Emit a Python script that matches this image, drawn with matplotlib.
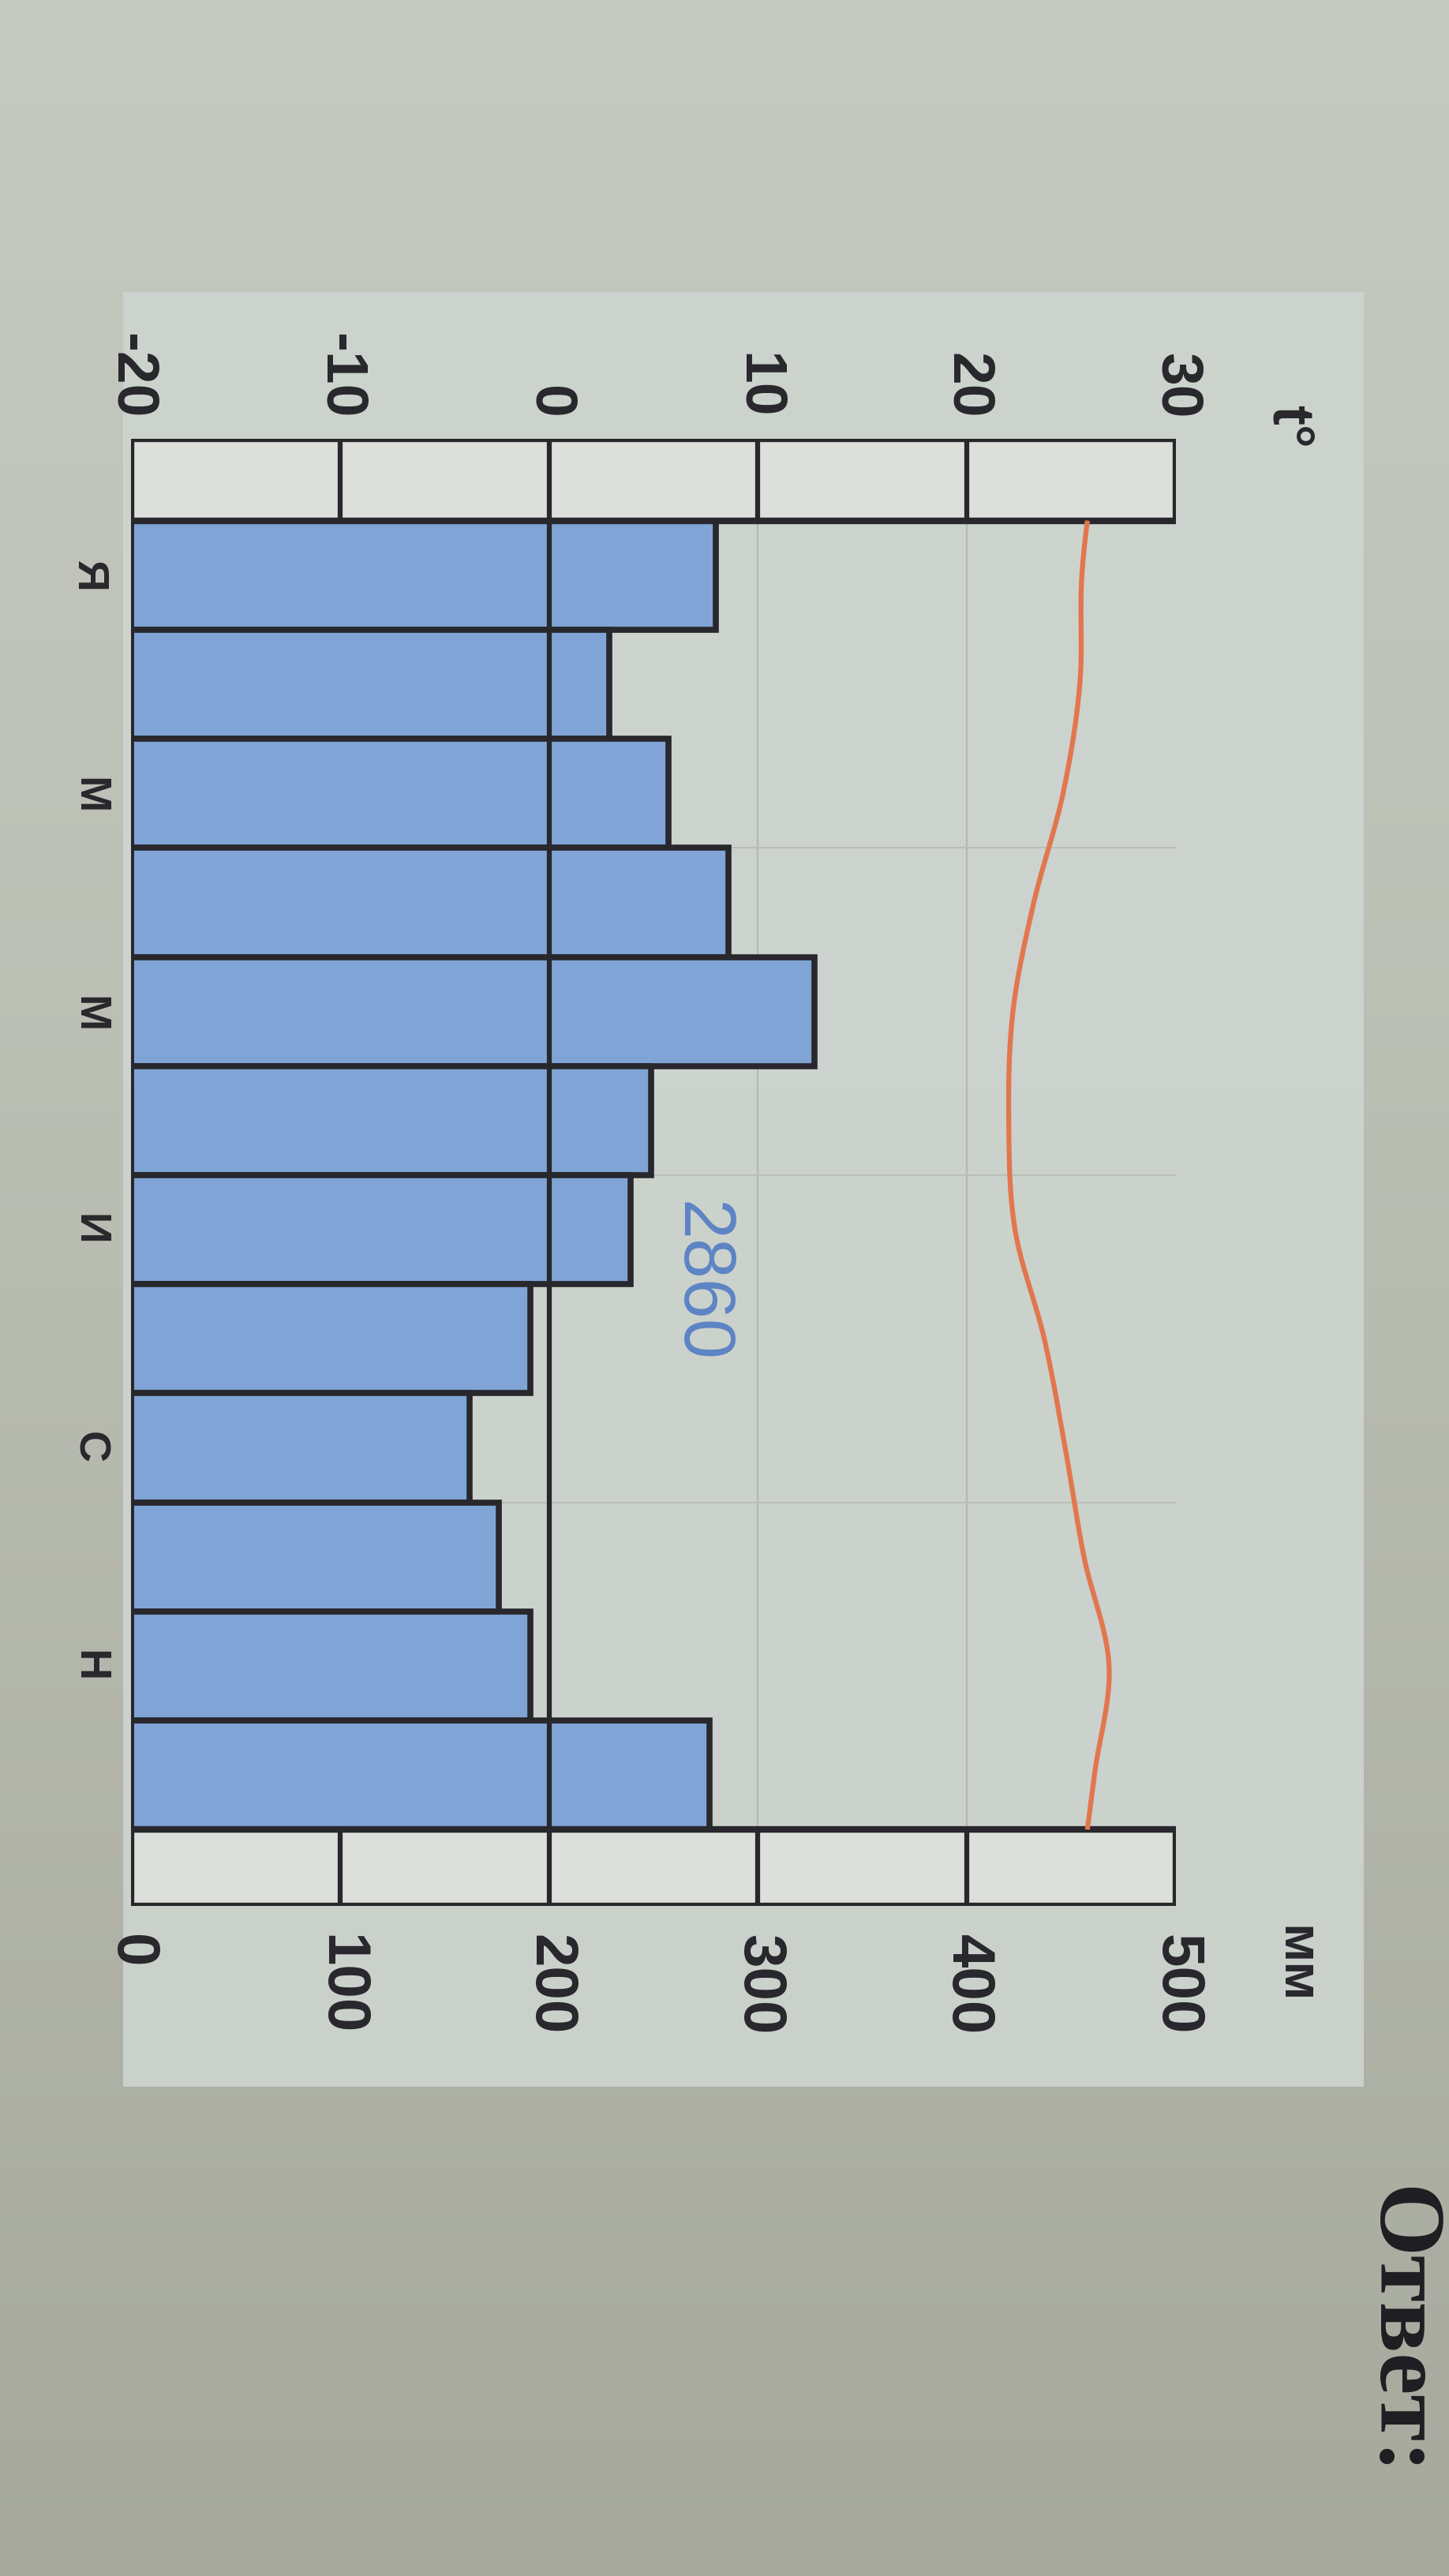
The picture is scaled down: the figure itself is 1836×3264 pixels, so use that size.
import numpy as np
import matplotlib
matplotlib.use('Agg')
import matplotlib.pyplot as plt
from matplotlib.patches import Rectangle

plt.rcParams['font.family'] = ['Liberation Sans', 'DejaVu Sans']

# climate chart data (photo is rotated 90 degrees, months run top -> bottom)
months = ['Я', 'Ф', 'М', 'А', 'М', 'И', 'И', 'А', 'С', 'О', 'Н', 'Д']
label_months = [0, 2, 4, 6, 8, 10]
precip = [280, 229, 257, 286, 327, 249, 239, 191, 162, 176, 191, 277]
temps = [25.5, 25.4, 24.6, 23.2, 22.2, 22.0, 22.3, 23.7, 24.7, 25.6, 26.8, 26.1]
mm_ticks = [0, 100, 200, 300, 400, 500]
mm_labels = ['0', '100', '200', '300', '400', '500']
t_ticks = [-20, -10, 0, 10, 20, 30]
t_labels = ['-20', '-10', '0', '10', '20', '30']
total_label = '2860'

W, H = 1836, 3264
ink = '#28272c'
bar_col = '#80a4d6'
line_col = '#e2764f'


def fx(px):
    return px / W


def fy(py):
    return 1 - py / H


def smooth(vals, n=40):
    # periodic catmull-rom through monthly values, centres at i + 0.5
    v = np.r_[vals[-2:], vals, vals[:2]]
    c = np.arange(-2, len(vals) + 2) + 0.5
    ys, xs = [], []
    t = np.linspace(0, 1, n, endpoint=False)
    for i in range(1, len(v) - 2):
        p0, p1, p2, p3 = v[i - 1], v[i], v[i + 1], v[i + 2]
        xs.append(0.5 * (2 * p1 + (-p0 + p2) * t + (2 * p0 - 5 * p1 + 4 * p2 - p3) * t ** 2
                         + (-p0 + 3 * p1 - 3 * p2 + p3) * t ** 3))
        ys.append(c[i] + t)
    xs, ys = np.concatenate(xs), np.concatenate(ys)
    keep = (ys >= 0) & (ys <= 12)
    return xs[keep], ys[keep]


fig = plt.figure(figsize=(W / 100, H / 100), dpi=100)

# paper background
bg = fig.add_axes([0, 0, 1, 1], zorder=-10)
grad = np.linspace(0, 1, 256)[:, None]
bg.imshow(grad, aspect='auto', extent=[0, W, H, 0],
          cmap=matplotlib.colors.LinearSegmentedColormap.from_list('p', ['#c6cac1', '#b9bcb1', '#a7a99d']))
bg.add_patch(Rectangle((156, 370), 1572, 2274, facecolor='#ced5d0', edgecolor='none', alpha=0.9))
bg.set_xlim(0, W)
bg.set_ylim(H, 0)
bg.axis('off')

# main axes: x in mm, y in months
top_px, bot_px = 556, 2415
ax = fig.add_axes([fx(166), fy(bot_px), fx(1490 - 166), (bot_px - top_px) / H])
ax.set_facecolor('none')
ax.set_xlim(0, 500)
ax.set_ylim(12.70, -0.75)
for s in ax.spines.values():
    s.set_visible(False)

# faint grid
for x in [100, 300, 400]:
    ax.plot([x, x], [0, 12], color='#b3b9b2', lw=1.5, zorder=1)
for y in [3, 6, 9]:
    ax.plot([0, 500], [y, y], color='#b9beb7', lw=1.5, zorder=1)

# precipitation bars
y = np.arange(12) + 0.5
ax.barh(y, precip, height=1.0, left=0, color=bar_col, edgecolor=ink, linewidth=5.5, zorder=2)

# 0 deg line
ax.plot([200, 200], [-0.75, 12.70], color=ink, lw=4.5, zorder=3)
ax.plot([0, 0], [-0.75, 12.70], color=ink, lw=5.5, zorder=3)

# scale strips
for y0, h in [(-0.75, 0.75), (12, 0.70)]:
    ax.add_patch(Rectangle((0, y0), 500, h, facecolor='#dde0da', edgecolor=ink, lw=6, zorder=4))
    for x in mm_ticks[1:-1]:
        ax.plot([x, x], [y0, y0 + h], color=ink, lw=4.5, zorder=5)

# temperature curve on its own scale
ax2 = ax.twiny()
ax2.set_xlim(-20, 30)
for s in ax2.spines.values():
    s.set_visible(False)
tx, ty = smooth(np.array(temps))
ax2.plot(tx, ty, color=line_col, lw=4.5, solid_capstyle='butt', zorder=6)

# ticks
ax.set_xticks(mm_ticks, mm_labels, rotation=-90, fontsize=55, fontweight='bold', color=ink)
ax.tick_params(axis='x', length=0, pad=26)
ax2.set_xticks(t_ticks, t_labels, rotation=-90, fontsize=54, fontweight='bold', color=ink)
ax2.tick_params(axis='x', length=0, pad=18)
ax.set_yticks([m + 0.5 for m in label_months], [months[m] for m in label_months],
              rotation=-90, fontsize=40, fontweight='bold', color=ink)
ax.tick_params(axis='y', length=0, pad=20)

ax.text(272, 6.98, total_label, rotation=-90, ha='center', va='center',
        fontsize=66, color='#5d84c4', zorder=7)

fig.text(fx(1632), fy(540), 't°', rotation=-90, ha='center', va='center',
         fontsize=54, fontweight='bold', color=ink)
fig.text(fx(1640), fy(2440), 'мм', rotation=-90, ha='center', va='top',
         fontsize=48, fontweight='bold', color=ink)
fig.text(fx(1772), fy(2770), 'Ответ:', rotation=-90, ha='center', va='top',
         fontsize=86, fontweight='bold', family=['Liberation Serif', 'DejaVu Serif'], color='#1e1d22')

fig.savefig('out.png', dpi=100)
